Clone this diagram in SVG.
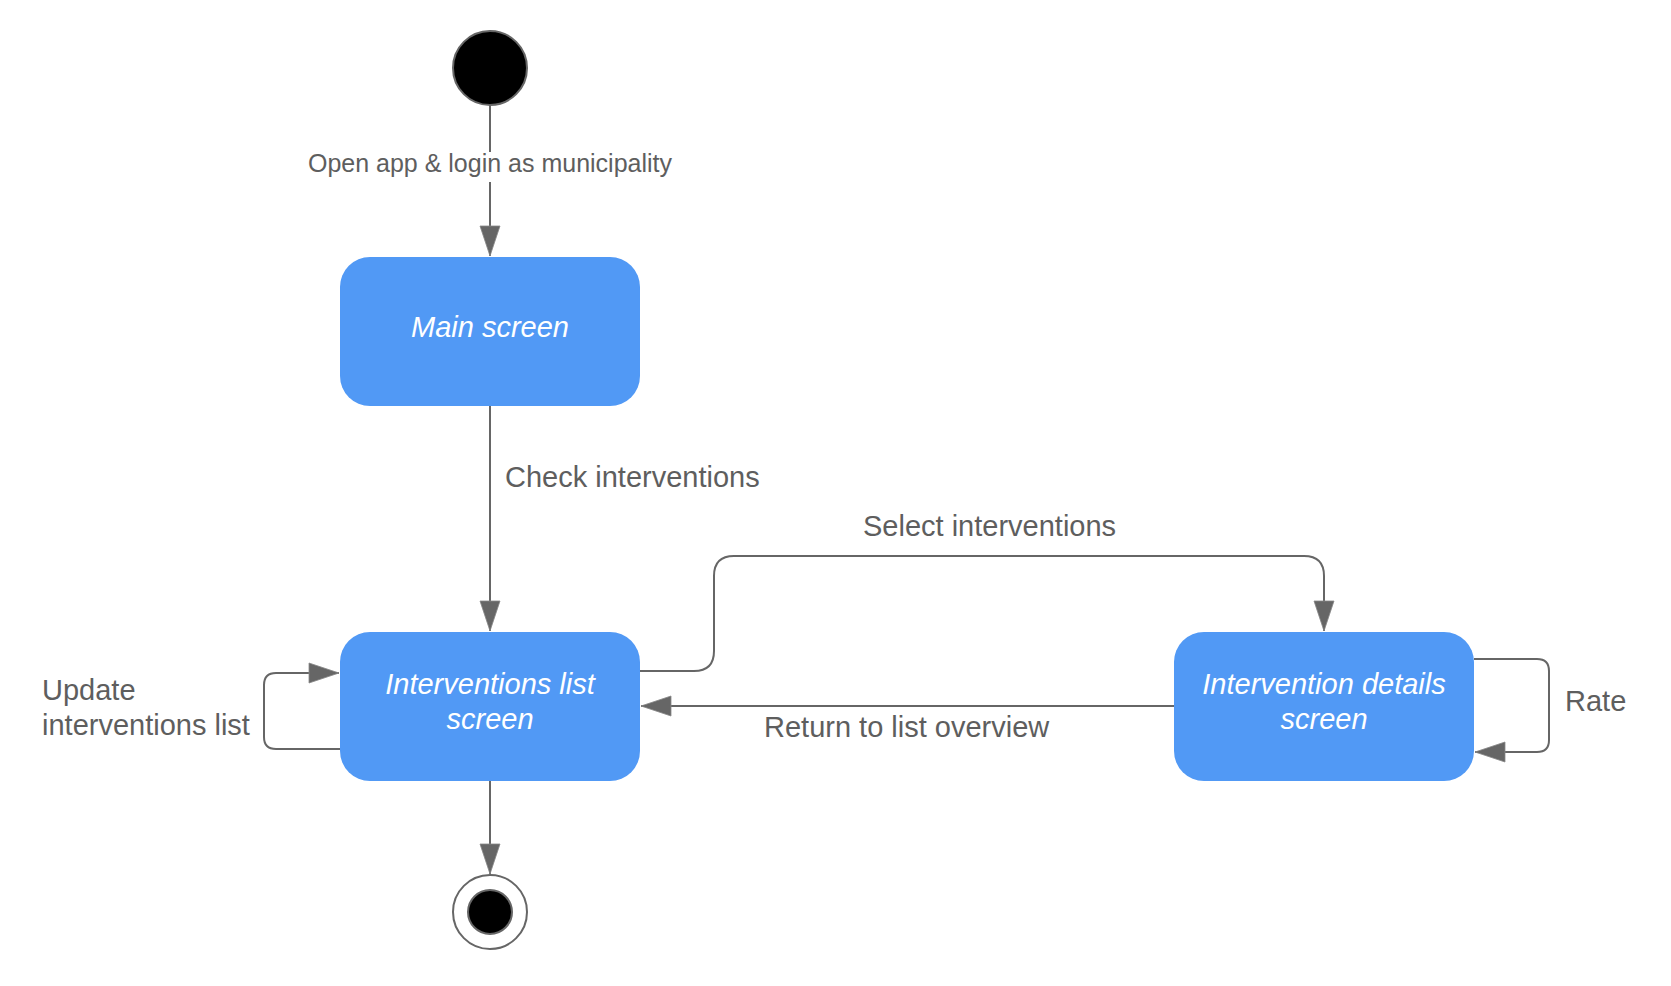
<svg xmlns="http://www.w3.org/2000/svg" width="1671" height="986" viewBox="0 0 1671 986">
  <style>
    .state { fill: #5199F5; }
    .stext { font-family: "Liberation Sans", Arial, sans-serif; font-size: 29px; font-style: italic; fill: #ffffff; text-anchor: middle; }
    .label { font-family: "Liberation Sans", Arial, sans-serif; font-size: 29px; fill: #5e5e5e; }
    .conn { fill: none; stroke: #666666; stroke-width: 2; }
    .pseudo { stroke: #666666; stroke-width: 2; }
  </style>
  <defs>
    <marker id="arrow" markerUnits="userSpaceOnUse" markerWidth="32" markerHeight="22" viewBox="-1 -1 32 22" refX="30" refY="10" orient="auto">
      <path d="M0,0 L30,10 L0,20 Z" fill="#666666" stroke="#888888" stroke-width="0.8"/>
    </marker>
  </defs>
  <rect width="1671" height="986" fill="#ffffff"/>

  <g id="connectors">
    <path class="conn" d="M490,105 V152"/>
    <path class="conn" d="M490,182 V256" marker-end="url(#arrow)"/>
    <path class="conn" d="M490,406 V631" marker-end="url(#arrow)"/>
    <path class="conn" d="M490,781 V874" marker-end="url(#arrow)"/>
    <path class="conn" d="M640,671 H694 Q714,671 714,651 V576 Q714,556 734,556 H1304 Q1324,556 1324,576 V631" marker-end="url(#arrow)"/>
    <path class="conn" d="M1174,706 H641" marker-end="url(#arrow)"/>
    <path class="conn" d="M1474,659 H1537 Q1549,659 1549,671 V740 Q1549,752 1537,752 H1475" marker-end="url(#arrow)"/>
    <path class="conn" d="M340,749 H276 Q264,749 264,737 V685 Q264,673 276,673 H339" marker-end="url(#arrow)"/>
    <text class="label" x="490" y="172" style="font-size:25px" text-anchor="middle">Open app &amp; login as municipality</text>
    <text class="label" x="505" y="487">Check interventions</text>
    <text class="label" x="863" y="536">Select interventions</text>
    <text class="label" x="764" y="737">Return to list overview</text>
    <text class="label" x="1565" y="711">Rate</text>
    <text class="label" x="42" y="700">Update</text>
    <text class="label" x="42" y="735">interventions list</text>
  </g>

  <g id="start">
    <circle cx="490" cy="68" r="37" fill="#000000" class="pseudo"/>
  </g>

  <g id="main-screen">
    <rect class="state" x="340" y="257" width="300" height="149" rx="30" ry="30"/>
    <text class="stext" x="490" y="337">Main screen</text>
  </g>

  <g id="interventions-list-screen">
    <rect class="state" x="340" y="632" width="300" height="149" rx="30" ry="30"/>
    <text class="stext" x="490" y="694">Interventions list</text>
    <text class="stext" x="490" y="729">screen</text>
  </g>

  <g id="intervention-details-screen">
    <rect class="state" x="1174" y="632" width="300" height="149" rx="30" ry="30"/>
    <text class="stext" x="1324" y="694">Intervention details</text>
    <text class="stext" x="1324" y="729">screen</text>
  </g>

  <g id="end">
    <circle cx="490" cy="912" r="37" fill="#ffffff" class="pseudo"/>
    <circle cx="490" cy="912" r="22" fill="#000000" class="pseudo"/>
  </g>
</svg>
